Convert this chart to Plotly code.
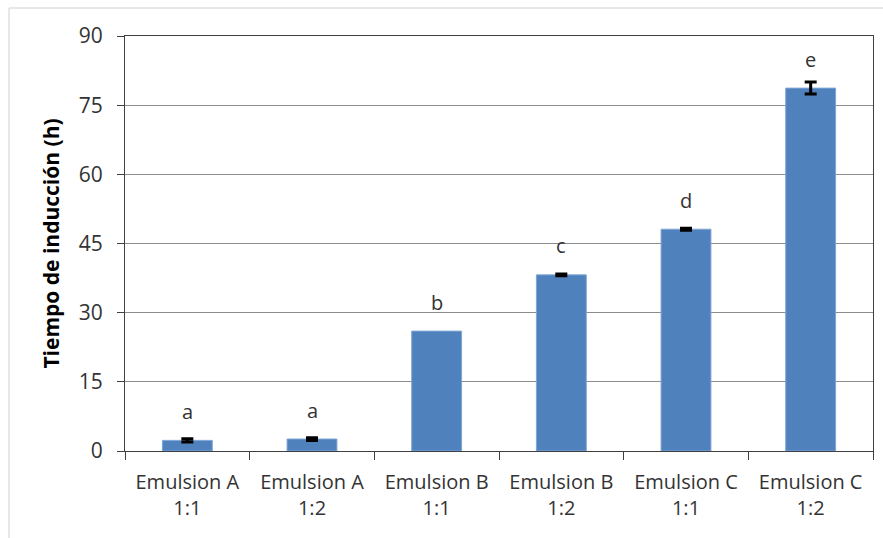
import plotly.graph_objects as go

categories = ["Emulsion A<br>1:1", "Emulsion A<br>1:2", "Emulsion B<br>1:1",
              "Emulsion B<br>1:2", "Emulsion C<br>1:1", "Emulsion C<br>1:2"]
values = [2.3, 2.6, 26.0, 38.2, 48.1, 78.7]
errors = [0.35, 0.3, None, 0.2, 0.2, 1.3]
letters = ["a", "a", "b", "c", "d", "e"]
y_ticks = [0, 15, 30, 45, 60, 75, 90]

FONT = "Open Sans"
TXT = "#333333"

fig = go.Figure()
fig.add_trace(go.Bar(
    x=categories, y=values, width=0.4,
    marker=dict(color="#4F81BD", line=dict(color="#7FA6D6", width=1)),
))
# error bars only where the reference shows them
ex = [c for c, e in zip(categories, errors) if e is not None]
ev = [v for v, e in zip(values, errors) if e is not None]
ee = [e for e in errors if e is not None]
fig.add_trace(go.Scatter(
    x=ex, y=ev, mode="markers", marker=dict(size=0.1, opacity=0),
    error_y=dict(type="data", array=ee, visible=True, color="black",
                 thickness=3, width=6),
    hoverinfo="skip",
))

for c, v, lab in zip(categories, values, letters):
    fig.add_annotation(x=c, y=v, text=lab, showarrow=False, yanchor="middle",
                       yshift=29, font=dict(family=FONT, size=20, color=TXT))

fig.update_layout(
    width=883, height=538,
    margin=dict(l=125, r=10, t=36, b=87),
    paper_bgcolor="white", plot_bgcolor="white",
    showlegend=False,
    font=dict(family=FONT, size=20, color=TXT),
    bargap=0.6,
)
fig.update_xaxes(
    type="category", tickson="boundaries", ticks="outside", ticklen=8,
    tickcolor="#404040", tickwidth=1,
    showline=True, linecolor="#404040", linewidth=1, mirror=True,
    showgrid=False, tickfont=dict(family=FONT, size=20, color=TXT),
    ticklabelstandoff=13,
)
fig.update_yaxes(
    range=[0, 90], tickvals=y_ticks, ticks="outside", ticklen=7,
    tickcolor="#404040", showline=True, linecolor="#404040", linewidth=1,
    mirror=True, showgrid=True, gridcolor="#8c8c8c", gridwidth=1,
    zeroline=False, tickfont=dict(family=FONT, size=21, color=TXT),
    ticklabelstandoff=10,
    title=dict(text="<b>Tiempo de inducción (h)</b>", standoff=13,
               font=dict(family=FONT, size=21, color="black")),
)
# outer chart border (left and top edges visible)
fig.add_shape(type="line", xref="paper", yref="paper",
              x0=(9 - 125) / 748, x1=(883 - 125) / 748,
              y0=(451 - 8) / 415, y1=(451 - 8) / 415,
              line=dict(color="#d0d0d0", width=1))
fig.add_shape(type="line", xref="paper", yref="paper",
              x0=(9 - 125) / 748, x1=(9 - 125) / 748,
              y0=(451 - 8) / 415, y1=-87 / 415,
              line=dict(color="#d0d0d0", width=1))

fig.write_html("out.html", config={"displayModeBar": False},
               post_script="document.body.style.margin='0';")
